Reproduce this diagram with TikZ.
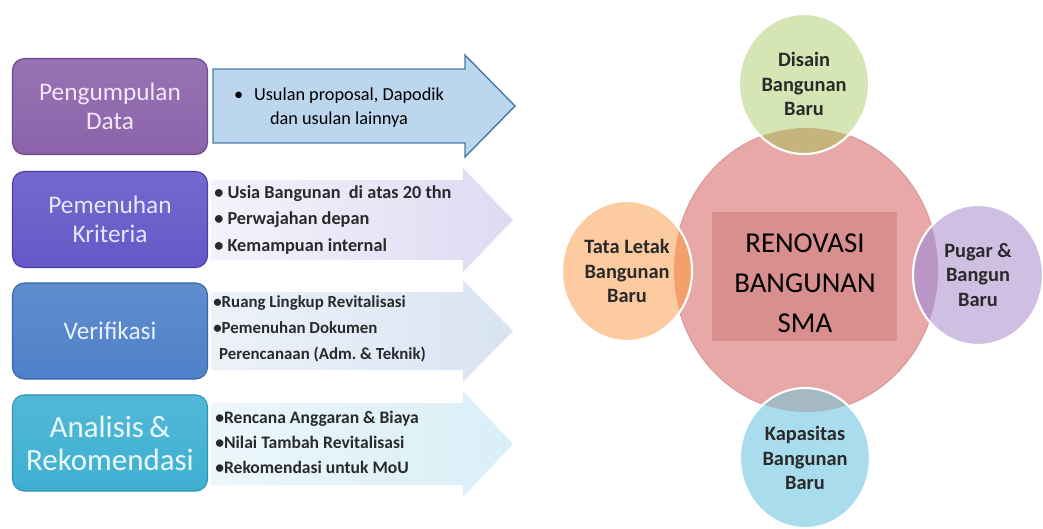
\documentclass[tikz,border=0pt]{standalone}
\usepackage{fontspec}
\setmainfont{Carlito}
\usetikzlibrary{shapes.geometric}

\definecolor{dataungu}{HTML}{8C63AB}
\definecolor{dataline}{HTML}{6B4A8A}
\definecolor{datatext}{HTML}{F2E8F8}
\definecolor{kritungu}{HTML}{6558C8}
\definecolor{kritline}{HTML}{4A3EA5}
\definecolor{krittext}{HTML}{E6E6FF}
\definecolor{verbiru}{HTML}{4E80C8}
\definecolor{verline}{HTML}{3B66A8}
\definecolor{vertext}{HTML}{E8F0FB}
\definecolor{anatosca}{HTML}{3FB0D2}
\definecolor{analine}{HTML}{2C93B5}
\definecolor{anatext}{HTML}{EAF8FC}
\definecolor{usulfill}{HTML}{BCD6EE}
\definecolor{usulline}{HTML}{4A7AA5}
\definecolor{txtgrey}{HTML}{2A2A2A}
\definecolor{pinkbig}{HTML}{E8A8A8}
\definecolor{pinkline}{HTML}{DB9A9A}
\definecolor{pinkrect}{HTML}{DA8F8F}
\definecolor{hijau}{HTML}{D6E5B4}
\definecolor{oranye}{HTML}{FCCB9F}
\definecolor{lila}{HTML}{CFC0E3}
\definecolor{langit}{HTML}{A9DCEC}
\definecolor{lenshijau}{HTML}{C5B57C}
\definecolor{lensoranye}{HTML}{F4A06C}
\definecolor{lenslila}{HTML}{B996C6}
\definecolor{lenslangit}{HTML}{A4B9C2}

\begin{document}
\begin{tikzpicture}[x=0.025cm,y=-0.025cm,
  stepbox/.style={draw, rounded corners=0.3cm, line width=0.8pt,
    minimum width=4.875cm, minimum height=2.4cm, align=center,
    font=\fontsize{18}{20.5}\selectfont},
  bubble/.style={ellipse, inner sep=0pt, minimum width=3.25cm,
    minimum height=3.5cm, align=center, text=txtgrey,
    font=\fontsize{14.5}{17.7}\selectfont\bfseries},
  ring/.style={draw=white, line width=1.5pt},
  notes/.style={anchor=west, align=left, inner sep=0pt, text=txtgrey}]

\useasboundingbox (0,0) rectangle (1043,528);

% left column
\node[stepbox, top color=dataungu!90!white, bottom color=dataungu, draw=dataline, text=datatext] (data) at (110,106.5) {Pengumpulan\\Data};
\node[stepbox, top color=kritungu!90!white, bottom color=kritungu, draw=kritline, text=krittext] (kriteria) at (110,219.5) {Pemenuhan\\Kriteria};
\node[stepbox, top color=verbiru!90!white, bottom color=verbiru, draw=verline, text=vertext] (verifikasi) at (110,331) {Verifikasi};
\node[stepbox, top color=anatosca!90!white, bottom color=anatosca, draw=analine, text=anatext,
  font=\fontsize{22}{23.5}\selectfont] (analisis) at (110,443) {Analisis\,\&\\Rekomendasi};

\draw[fill=usulfill, draw=usulline, line width=1pt] (213,69) -- (465,69) -- (465,55) -- (515,106) -- (465,157) -- (465,143) -- (213,143) -- cycle;

\begin{scope}[shift={(0,220)}]
\shade[left color=white!60!kritungu!18, right color=kritungu!22!white] (211,-40) -- (463,-40) -- (463,-52) -- (513,0) -- (463,52) -- (463,40) -- (211,40) -- cycle;
\end{scope}
\begin{scope}[shift={(0,331)}]
\shade[left color=verbiru!10!white, right color=verbiru!22!white] (211,-39) -- (463,-39) -- (463,-51) -- (513,0) -- (463,51) -- (463,39) -- (211,39) -- cycle;
\end{scope}
\begin{scope}[shift={(0,444)}]
\shade[left color=anatosca!10!white, right color=anatosca!20!white] (211,-41) -- (463,-41) -- (463,-53) -- (513,0) -- (463,53) -- (463,41) -- (211,41) -- cycle;
\end{scope}

\node[align=center, font=\fontsize{13}{17}\selectfont] (usulan) at (339,108) {\textbullet\hspace{0.6em}Usulan proposal, Dapodik\\dan usulan lainnya};
\node[notes, font=\fontsize{13}{19}\selectfont\bfseries] (syarat) at (214,220) {\textbullet\ Usia Bangunan\ \ di atas 20 thn\\\textbullet\ Perwajahan depan\\\textbullet\ Kemampuan internal};
\node[notes, font=\fontsize{12}{18.4}\selectfont\bfseries] (lingkup) at (213,329) {\textbullet Ruang Lingkup Revitalisasi\\\textbullet Pemenuhan Dokumen\\\hspace{0.35em}Perencanaan (Adm.\ \& Teknik)};
\node[notes, font=\fontsize{12.5}{17.7}\selectfont\bfseries] (anggaran) at (215,442) {\textbullet Rencana Anggaran \& Biaya\\\textbullet Nilai Tambah Revitalisasi\\\textbullet Rekomendasi untuk MoU};

% right side
\node[ellipse, inner sep=0pt, minimum width=6.6cm, minimum height=7.1cm, fill=pinkbig, draw=pinkline, line width=0.8pt] (pusat) at (806,270) {};
\node[fill=pinkrect, inner sep=0pt, minimum width=4.625cm, minimum height=3.225cm] (kotak) at (804.5,276.5) {};
\node[align=center, font=\fontsize{20.5}{28.5}\selectfont] (judul) at (805,283) {RENOVASI\\BANGUNAN\\SMA};

\node[bubble, fill=hijau] (disain) at (804,84) {Disain\\Bangunan\\Baru};
\node[bubble, fill=oranye] (tata) at (627,271) {Tata Letak\\Bangunan\\Baru};
\node[bubble, fill=lila] (pugar) at (978,275) {Pugar \&\\Bangun\\Baru};
\node[bubble, fill=langit] (kapasitas) at (805,458) {Kapasitas\\Bangunan\\Baru};

\begin{scope}
\clip (pusat.center) ellipse [x radius=3.3cm, y radius=3.55cm];
\fill[lenshijau] (disain.center) ellipse [x radius=1.625cm, y radius=1.75cm];
\fill[lensoranye] (tata.center) ellipse [x radius=1.625cm, y radius=1.75cm];
\fill[lenslila] (pugar.center) ellipse [x radius=1.625cm, y radius=1.75cm];
\fill[lenslangit] (kapasitas.center) ellipse [x radius=1.625cm, y radius=1.75cm];
\end{scope}

\draw[ring] (disain.center) ellipse [x radius=1.625cm, y radius=1.75cm];
\draw[ring] (tata.center) ellipse [x radius=1.625cm, y radius=1.75cm];
\draw[ring] (pugar.center) ellipse [x radius=1.625cm, y radius=1.75cm];
\draw[ring] (kapasitas.center) ellipse [x radius=1.625cm, y radius=1.75cm];

\end{tikzpicture}
\end{document}
